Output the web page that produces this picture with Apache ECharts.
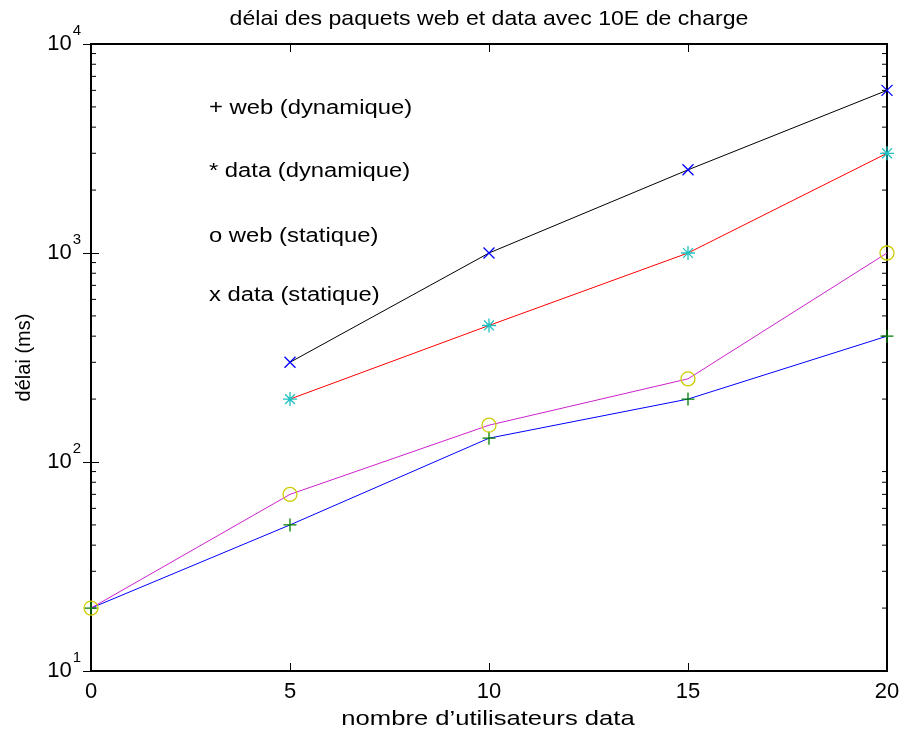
<!DOCTYPE html>
<html><head><meta charset="utf-8">
<script src="https://cdn.jsdelivr.net/npm/echarts@6/dist/echarts.min.js"></script>
<style>html,body{margin:0;padding:0;background:#fff}#c{width:905px;height:742px}</style>
</head><body><div id="c"></div>
<script>
const xValues = [0, 5, 10, 15, 20];
const webDyn = [20, 50, 130, 200, 400];
const dataDyn = [null, 200, 450, 1000, 3000];
const webStat = [20, 70, 150, 250, 1000];
const dataStat = [null, 300, 1000, 2500, 6000];
const legendTexts = ['+ web (dynamique)', '* data (dynamique)', 'o web (statique)', 'x data (statique)'];
const titleText = 'délai des paquets web et data avec 10E de charge';
const xName = 'nombre d’utilisateurs data';
const yName = 'délai (ms)';
const minorTicks = [];
[10, 100, 1000].forEach(d => { for (let k = 2; k <= 9; k++) minorTicks.push(k * d); });

const FONT = 'Liberation Sans, Arial, sans-serif';
function pairs(ys) { return xValues.map((x, i) => ys[i] == null ? null : [x, ys[i]]).filter(p => p); }

const plusPath = 'path://M5,0L5,10M0,5L10,5';
const xPath = 'path://M0,0L10,10M0,10L10,0';
const starPath = 'path://M5,0L5,10M0,5L10,5M1.5,1.5L8.5,8.5M1.5,8.5L8.5,1.5';

function lineSeries(name, ys, lineColor, markColor, symbol, size) {
  return {
    name, type: 'line', data: pairs(ys), xAxisIndex: 0, yAxisIndex: 0,
    symbol, symbolSize: size, showAllSymbol: true,
    lineStyle: { color: lineColor, width: 1 },
    itemStyle: { color: symbol === 'circle' ? 'rgba(0,0,0,0)' : markColor, borderColor: markColor, borderWidth: 1.3 },
    emphasis: { disabled: true }, animation: false, z: 3
  };
}

const chart = echarts.init(document.getElementById('c'));
const axisLineStyle = { lineStyle: { color: '#000', width: 2 } };
const tickStyle = { inside: true, length: 8, lineStyle: { color: '#000', width: 1 } };
chart.setOption({
  animation: false,
  grid: { left: 91, right: 18, top: 44, bottom: 71, show: true, borderColor: '#000', borderWidth: 2, backgroundColor: 'transparent' },
  xAxis: [
    { type: 'value', min: 0, max: 20, interval: 5, position: 'bottom',
      axisLine: axisLineStyle, axisTick: tickStyle,
      axisLabel: { fontFamily: FONT, fontSize: 22, color: '#000', margin: 10 }, splitLine: { show: false } },
    { type: 'value', min: 0, max: 20, interval: 5, position: 'top',
      axisLine: axisLineStyle, axisTick: tickStyle,
      axisLabel: { show: false }, splitLine: { show: false } }
  ],
  yAxis: [
    { type: 'log', logBase: 10, min: 10, max: 10000, position: 'left',
      name: yName, nameLocation: 'middle', nameGap: 57,
      nameTextStyle: { fontFamily: FONT, fontSize: 20, color: '#000' },
      axisLine: axisLineStyle, axisTick: tickStyle,
      axisLabel: { margin: 10, color: '#000',
        formatter: v => '{b|10}{s|' + Math.round(Math.log10(v)) + '}',
        rich: { b: { fontFamily: FONT, fontSize: 22, lineHeight: 22, color: '#000', verticalAlign: 'bottom' },
                s: { fontFamily: FONT, fontSize: 15, lineHeight: 15, color: '#000', verticalAlign: 'bottom', padding: [0, 0, 17, 1] } } },
      splitLine: { show: false } },
    { type: 'log', logBase: 10, min: 10, max: 10000, position: 'right',
      axisLine: axisLineStyle, axisTick: tickStyle,
      axisLabel: { show: false }, splitLine: { show: false } }
  ],
  series: [
    lineSeries('web (dynamique)', webDyn, '#0000ff', '#008000', plusPath, 13),
    lineSeries('data (dynamique)', dataDyn, '#ff0000', '#20c0c0', starPath, 14),
    lineSeries('web (statique)', webStat, '#cc22cc', '#cccc00', 'circle', 14),
    lineSeries('data (statique)', dataStat, '#000000', '#0000ff', xPath, 11),
    { type: 'custom', data: minorTicks.map(v => [0, v]), xAxisIndex: 1, yAxisIndex: 1,
      encode: { x: 0, y: 1 }, silent: true, clip: false, z: 1,
      renderItem: (params, api) => {
        const p = api.coord([api.value(0), api.value(1)]);
        const cs = params.coordSys;
        return { type: 'group', children: [
          { type: 'line', shape: { x1: cs.x, y1: p[1], x2: cs.x + 5, y2: p[1] }, style: { stroke: '#000', lineWidth: 1 } },
          { type: 'line', shape: { x1: cs.x + cs.width - 5, y1: p[1], x2: cs.x + cs.width, y2: p[1] }, style: { stroke: '#000', lineWidth: 1 } }
        ] };
      } }
  ],
  graphic: [
    { type: 'text', x: 489, y: 19.5, scaleX: 1.1,
      style: { text: titleText, align: 'center', verticalAlign: 'middle', fontFamily: FONT, fontSize: 21, fill: '#000' } },
    { type: 'text', x: 488, y: 719.5, scaleX: 1.22,
      style: { text: xName, align: 'center', verticalAlign: 'middle', fontFamily: FONT, fontSize: 21, fill: '#000' } },
    ...legendTexts.map((t, i) => ({ type: 'text', x: 209, y: [108, 171, 236, 295][i], scaleX: 1.19,
      style: { text: t, align: 'left', verticalAlign: 'middle', fontFamily: FONT, fontSize: 20, fill: '#000' } }))
  ]
});
</script></body></html>
